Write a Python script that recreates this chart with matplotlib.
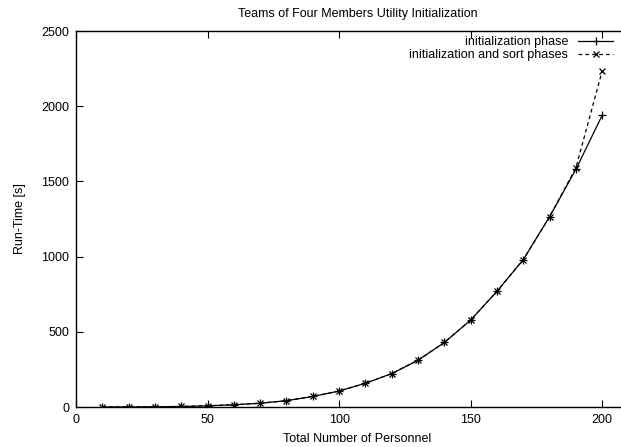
import matplotlib
matplotlib.use("Agg")
import matplotlib.pyplot as plt

plt.rcParams['font.family'] = ['Liberation Sans', 'DejaVu Sans']

personnel = [10, 20, 30, 40, 50, 60, 70, 80, 90, 100,
             110, 120, 130, 140, 150, 160, 170, 180, 190, 200]
init_phase = [0.2, 0.6, 1.5, 3.5, 8, 15, 25, 42, 70, 106,
              158, 222, 311, 429, 578, 769, 980, 1265, 1580, 1940]
init_sort_phases = [0.2, 0.6, 1.5, 3.5, 8, 15, 25, 42, 70, 106,
                    158, 222, 311, 429, 578, 769, 980, 1265, 1590, 2235]

W, H = 621, 447
fig = plt.figure(figsize=(W / 100, H / 100), dpi=100)
left_px, top_px, bottom_px = 76, 31, 407
px_per_unit = 2.631
xmax = 214
right_px = left_px + xmax * px_per_unit
ax = fig.add_axes([left_px / W, 1 - bottom_px / H,
                   (right_px - left_px) / W, (bottom_px - top_px) / H])

ax.plot(personnel, init_phase, color='black', lw=0.9, marker='+',
        markersize=6, markeredgewidth=0.9, label='initialization phase')
ax.plot(personnel, init_sort_phases, color='black', lw=0.9, ls=(0, (3, 2.5)),
        marker='x', markersize=4.5, markeredgewidth=0.9,
        label='initialization and sort phases')

ax.set_xlim(0, xmax)
ax.set_ylim(0, 2500)
ax.set_xticks([0, 50, 100, 150, 200])
ax.set_yticks([0, 500, 1000, 1500, 2000, 2500])
ax.tick_params(direction='in', length=5, width=0.8, labelsize=9,
               top=True, right=True, pad=5)
for s in ax.spines.values():
    s.set_linewidth(1.0)

ax.set_title('Teams of Four Members Utility Initialization', fontsize=9, pad=10)
ax.set_xlabel('Total Number of Personnel', fontsize=9, labelpad=5)
ax.set_ylabel('Run-Time [s]', fontsize=9, labelpad=11)

leg = ax.legend(loc='upper right', bbox_to_anchor=(613 / W, 1 - 36 / H),
                bbox_transform=fig.transFigure, frameon=False, markerfirst=False,
                numpoints=1, fontsize=9, handlelength=2.8, borderpad=0,
                borderaxespad=0, labelspacing=0.1, handletextpad=0.8)

fig.savefig('out.png', dpi=100)
